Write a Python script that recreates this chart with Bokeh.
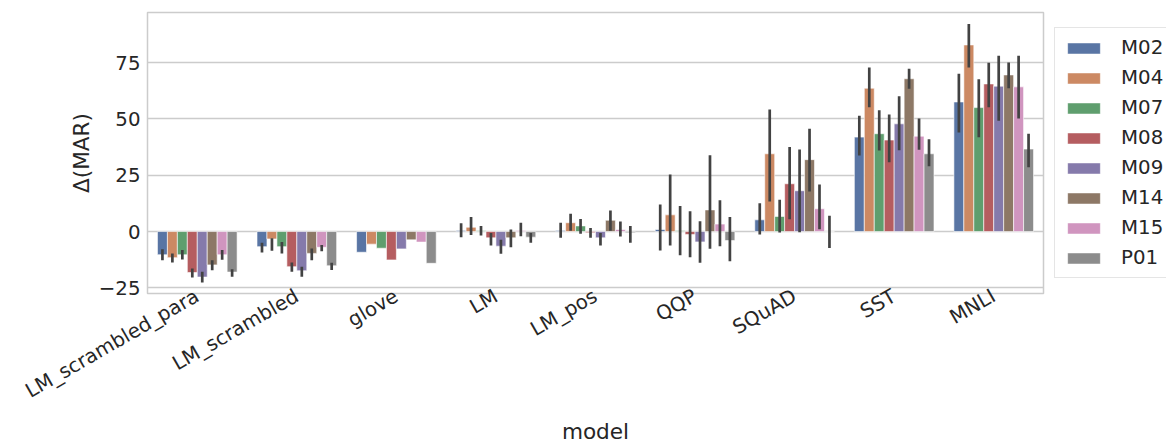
import math
from bokeh.plotting import figure
from bokeh.models import (ColumnDataSource, Range1d, FactorRange, FixedTicker,
                          Legend, LegendItem)
from bokeh.transform import dodge
from bokeh.embed import file_html
from bokeh.resources import INLINE

models = ["LM_scrambled_para", "LM_scrambled", "glove", "LM", "LM_pos",
          "QQP", "SQuAD", "SST", "MNLI"]
hues = ["M02", "M04", "M07", "M08", "M09", "M14", "M15", "P01"]
colors = ["#5975a4", "#cc8963", "#5f9e6e", "#b55d60",
          "#857aab", "#8d7866", "#d095bf", "#8c8c8c"]

M02 = [-10.3, -6.7, -9.2, 0.5, 0.5, 0.9, 5.2, 41.9, 57.5]
M02_lo = [-12.7, -9.3, -9.2, -2.5, -2.8, -8.4, -1.3, 33.7, 44.0]
M02_hi = [-7.9, -5.0, -9.2, 3.7, 3.9, 12.0, 12.6, 51.4, 70.0]

M04 = [-11.6, -3.3, -5.6, 1.9, 3.9, 7.4, 34.5, 63.6, 82.8]
M04_lo = [-13.7, -8.5, -5.6, -1.5, 0.4, -6.2, 13.3, 55.1, 72.8]
M04_hi = [-9.7, -3.0, -5.6, 6.4, 7.9, 25.3, 54.2, 72.8, 92.1]

M07 = [-10.3, -6.7, -7.4, 0.3, 2.5, 0.3, 6.7, 43.4, 55.0]
M07_lo = [-12.4, -9.7, -7.4, -1.8, -1.0, -10.5, -0.4, 36.0, 41.8]
M07_hi = [-8.2, -4.7, -7.4, 2.4, 5.6, 11.3, 14.1, 53.8, 67.6]

M08 = [-18.2, -15.6, -12.6, -2.8, -0.5, -1.3, 21.2, 40.6, 65.5]
M08_lo = [-20.4, -17.9, -12.6, -6.2, -2.8, -11.4, 5.5, 30.8, 55.1]
M08_hi = [-16.4, -13.7, -12.6, -0.6, 1.6, 9.0, 37.5, 51.9, 74.9]

M09 = [-20.2, -17.4, -7.7, -6.5, -2.8, -4.6, 18.1, 47.8, 64.5]
M09_lo = [-22.6, -20.1, -7.7, -9.9, -6.2, -13.9, -0.3, 36.1, 49.2]
M09_hi = [-17.9, -15.6, -7.7, -3.7, -0.6, 4.6, 36.4, 60.0, 78.0]

M14 = [-14.8, -9.7, -3.7, -2.8, 5.0, 9.6, 31.9, 67.8, 69.5]
M14_lo = [-17.2, -12.7, -3.7, -7.0, 0.4, -7.6, 17.8, 63.4, 63.6]
M14_hi = [-12.7, -7.5, -3.7, 0.9, 9.3, 33.9, 45.6, 72.2, 75.0]

M15 = [-10.3, -7.0, -4.7, 0.5, 0.9, 3.3, 10.1, 42.3, 64.2]
M15_lo = [-12.5, -8.7, -4.7, -2.1, -2.2, -6.5, 1.0, 36.3, 50.2]
M15_hi = [-8.2, -6.0, -4.7, 3.9, 4.4, 13.9, 20.9, 50.2, 78.0]

P01 = [-18.0, -15.2, -14.1, -2.5, -0.5, -4.0, -0.1, 34.5, 36.6]
P01_lo = [-20.1, -17.1, -14.1, -5.0, -5.0, -13.2, -7.3, 29.0, 28.5]
P01_hi = [-16.7, -13.9, -14.1, -0.6, 2.4, 6.4, 7.0, 40.9, 43.4]

series = [
    (M02, M02_lo, M02_hi), (M04, M04_lo, M04_hi), (M07, M07_lo, M07_hi),
    (M08, M08_lo, M08_hi), (M09, M09_lo, M09_hi), (M14, M14_lo, M14_hi),
    (M15, M15_lo, M15_hi), (P01, P01_lo, P01_hi),
]

y_ticks = [-25, 0, 25, 50, 75]

FONT = "DejaVu Sans"
TXT = "#262626"
Y0, Y1 = -27.5, 97.2

p = figure(width=1166, height=445, x_range=FactorRange(*models),
           y_range=Range1d(Y0, Y1), output_backend="svg",
           toolbar_location=None, frame_width=896, frame_height=281,
           min_border_left=147, min_border_top=12,
           min_border_bottom=150, min_border_right=123)
p.background_fill_color = "white"
p.border_fill_color = "white"
p.outline_line_color = "#cccccc"
p.outline_line_width = 1.5

n = len(hues)
bw = 0.8 / n
items = []
for i, (h, c, (vals, lo, hi)) in enumerate(zip(hues, colors, series)):
    off = -0.4 + bw * (i + 0.5)
    src = ColumnDataSource(dict(model=models, val=vals, lo=lo, hi=hi))
    r = p.vbar(x=dodge("model", off, range=p.x_range), top="val", bottom=0,
               width=bw, source=src, fill_color=c, line_color="white",
               line_width=0.6)
    p.segment(x0=dodge("model", off, range=p.x_range), y0="lo",
              x1=dodge("model", off, range=p.x_range), y1="hi",
              source=src, line_color="#424242", line_width=2.7)
    items.append(LegendItem(label=h, renderers=[r]))

p.xgrid.grid_line_color = None
p.ygrid.grid_line_color = "#cccccc"
p.ygrid.grid_line_width = 1.3
p.yaxis.ticker = FixedTicker(ticks=y_ticks)
p.yaxis.major_label_overrides = {t: (("\u2212" + str(-t)) if t < 0 else str(t)) for t in y_ticks}

for ax in (p.xaxis, p.yaxis):
    ax.axis_line_color = None
    ax.major_tick_line_color = None
    ax.minor_tick_line_color = None
    ax.major_tick_out = 0
    ax.major_tick_in = 0
    ax.minor_tick_out = 0
    ax.major_label_text_font = FONT
    ax.major_label_text_font_size = "19.8px"
    ax.major_label_text_color = TXT
    ax.axis_label_text_font = FONT
    ax.axis_label_text_font_size = "21.6px"
    ax.axis_label_text_color = TXT
    ax.axis_label_text_font_style = "normal"

p.yaxis.axis_label = "\u0394(MAR)"
p.yaxis.major_label_standoff = 7
p.yaxis.axis_label_standoff = 2
p.xaxis.axis_label = "model"
p.xaxis.major_label_orientation = math.pi / 6
p.xaxis.major_label_standoff = 1
p.xaxis.axis_label_standoff = 3

legend = Legend(items=items, location=(11, 15))
legend.label_text_font = FONT
legend.label_text_font_size = "19.8px"
legend.label_text_color = TXT
legend.glyph_width = 41
legend.glyph_height = 14
legend.label_standoff = 17
legend.spacing = 7
legend.padding = 8
legend.margin = 0
legend.border_line_color = "#cccccc"
legend.border_line_width = 1.2
legend.background_fill_alpha = 0.8
p.add_layout(legend, "right")

open("out.html", "w").write(file_html(p, INLINE))
